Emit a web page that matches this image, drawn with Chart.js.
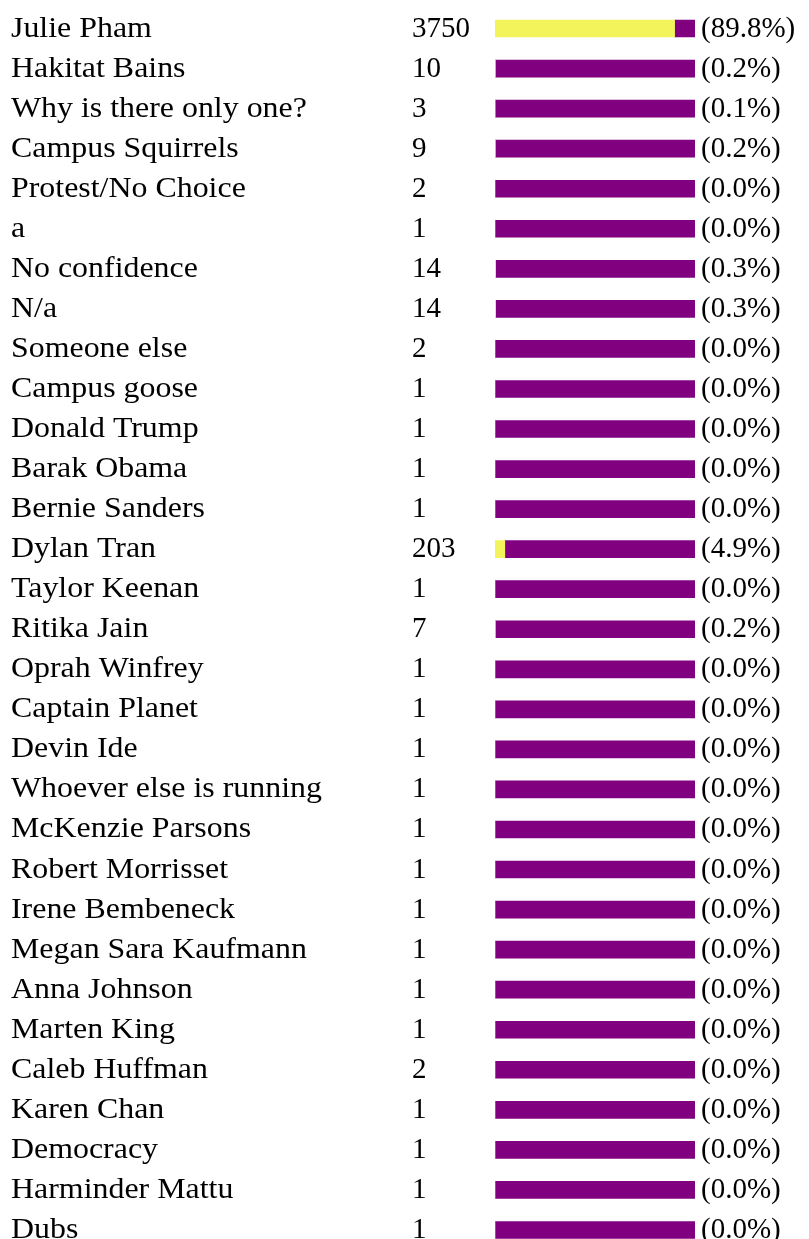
<!DOCTYPE html>
<html>
<head>
<meta charset="utf-8">
<script src="https://cdn.jsdelivr.net/npm/chart.js@4"></script>
<style>
  html, body { margin: 0; padding: 0; background: #fff; overflow: hidden; }
  #wrap { width: 809px; height: 1262px; position: relative; }
</style>
</head>
<body>
<div id="wrap"><canvas id="votes-chart"></canvas></div>
<script>
const names = [
  "Julie Pham", "Hakitat Bains", "Why is there only one?", "Campus Squirrels",
  "Protest/No Choice", "a", "No confidence", "N/a", "Someone else",
  "Campus goose", "Donald Trump", "Barak Obama", "Bernie Sanders", "Dylan Tran",
  "Taylor Keenan", "Ritika Jain", "Oprah Winfrey", "Captain Planet", "Devin Ide",
  "Whoever else is running", "McKenzie Parsons", "Robert Morrisset",
  "Irene Bembeneck", "Megan Sara Kaufmann", "Anna Johnson", "Marten King",
  "Caleb Huffman", "Karen Chan", "Democracy", "Harminder Mattu", "Dubs"
]
const counts = [3750, 10, 3, 9, 2, 1, 14, 14, 2, 1, 1, 1, 1, 203, 1, 7, 1, 1, 1, 1, 1, 1, 1, 1, 1, 1, 2, 1, 1, 1, 1]
const percents = [89.8, 0.2, 0.1, 0.2, 0.0, 0.0, 0.3, 0.3, 0.0, 0.0, 0.0, 0.0, 0.0, 4.9, 0.0, 0.2, 0.0, 0.0, 0.0, 0.0, 0.0, 0.0, 0.0, 0.0, 0.0, 0.0, 0.0, 0.0, 0.0, 0.0, 0.0]
const remainder = percents.map(p => 100 - p)

const font = '29px "Liberation Serif", "Times New Roman", serif'

// draws the name, count and percentage text for each row
const rowText = {
    id: 'rowText',
    afterDatasetsDraw(chart) {
        const ctx = chart.ctx
        const y = chart.scales.y
        const x = chart.scales.x
        ctx.save()
        ctx.font = font
        ctx.fillStyle = '#000'
        ctx.textBaseline = 'alphabetic'
        ctx.textAlign = 'left'
        names.forEach((name, i) => {
            const py = y.getPixelForValue(i) + 8
            // names in the original are set a bit wider than Liberation Serif
            ctx.save()
            ctx.translate(11, py)
            ctx.scale(1.1, 1)
            ctx.fillText(name, 0, 0)
            ctx.restore()
            ctx.fillText(String(counts[i]), 412, py)
            ctx.fillText('(' + percents[i].toFixed(1) + '%)', x.getPixelForValue(100) + 6, py)
        })
        ctx.restore()
    }
}

const chart = new Chart(document.getElementById("votes-chart").getContext("2d"), {
    type: 'bar',
    data: {
        labels: names,
        datasets: [{
            data: percents,
            backgroundColor: "rgb(243, 243, 92)",
            barThickness: 17
        }, {
            data: remainder,
            backgroundColor: "rgb(128, 0, 128)",
            barThickness: 17
        }]
    },
    options: {
        indexAxis: 'y',
        responsive: true,
        maintainAspectRatio: false,
        animation: false,
        layout: {
            padding: { left: 495, right: 114, top: 8.5, bottom: 12 }
        },
        plugins: {
            legend: { display: false },
            tooltip: { enabled: false }
        },
        scales: {
            x: { stacked: true, min: 0, max: 100, display: false },
            y: { stacked: true, display: false }
        }
    },
    plugins: [rowText]
})
</script>
</body>
</html>
